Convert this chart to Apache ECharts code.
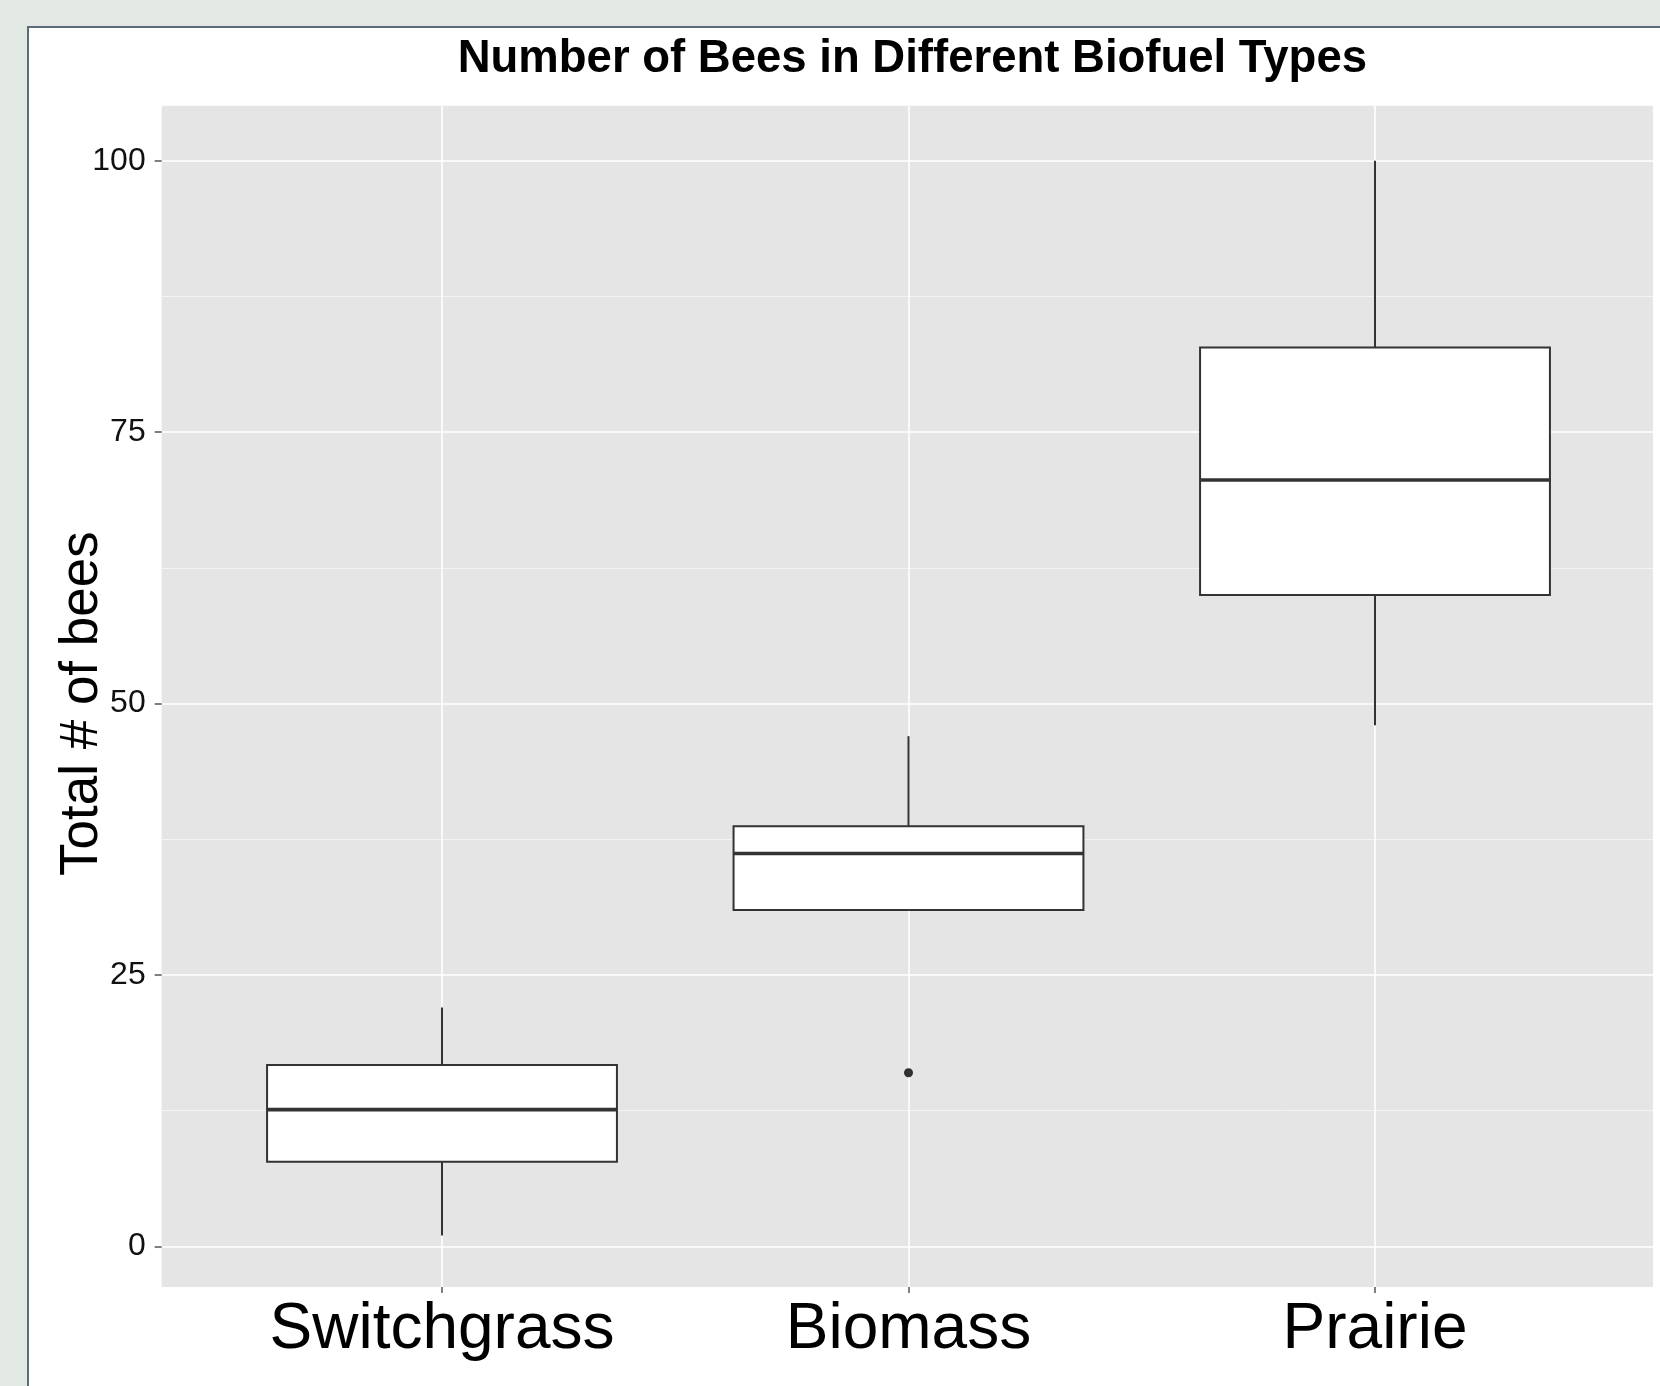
<!DOCTYPE html>
<html>
<head>
<meta charset="utf-8">
<script src="https://cdn.jsdelivr.net/npm/echarts@6/dist/echarts.min.js"></script>
<style>
  html, body { margin: 0; padding: 0; width: 1660px; height: 1386px; overflow: hidden; background: #e2e8e4; }
  #frame {
    position: absolute; left: 27px; top: 26px; width: 1640px; height: 1370px;
    background: #fff; border-left: 2px solid #5d6b78; border-top: 2px solid #5d6b78;
  }
  #chart { position: absolute; left: 0; top: 0; width: 1660px; height: 1386px; }
</style>
</head>
<body>
<div id="frame"></div>
<div id="chart"></div>
<script>
  // 数据
  const categories = ['Switchgrass', 'Biomass', 'Prairie']
  const lowerWhisker = [1, 31, 48]
  const q1 = [7.8, 31, 60]
  const median = [12.6, 36.2, 70.6]
  const q3 = [16.7, 38.7, 82.8]
  const upperWhisker = [22, 47, 100]
  const outliers = [['Biomass', 16]]
  const yTickStep = 25

  const fontFamily = "'Liberation Sans', Arial, sans-serif"
  const panelColor = '#e5e5e5'
  const boxLine = '#333333'

  // 面板位置
  const panel = { left: 161.7, top: 105.7, width: 1491.3, height: 1181.3 }
  const yMinPanel = -3.74
  const yMaxPanel = 105.08
  const pxPerUnit = panel.height / (yMaxPanel - yMinPanel)

  const boxData = categories.map((c, i) => [i, lowerWhisker[i], q1[i], median[i], q3[i], upperWhisker[i]])

  /** 画 ggplot 风格的箱子（没有须线端帽） */
  const renderBox = (params, api) => {
    const idx = api.value(0)
    const pLo = api.coord([idx, api.value(1)])
    const pQ1 = api.coord([idx, api.value(2)])
    const pMed = api.coord([idx, api.value(3)])
    const pQ3 = api.coord([idx, api.value(4)])
    const pHi = api.coord([idx, api.value(5)])
    const w = api.size([1, 0])[0] * 0.75
    const cx = pMed[0]
    const lineStyle = { stroke: boxLine, lineWidth: 2 }
    return {
      type: 'group',
      children: [
        { type: 'line', shape: { x1: cx, y1: pHi[1], x2: cx, y2: pQ3[1] }, style: lineStyle },
        { type: 'line', shape: { x1: cx, y1: pQ1[1], x2: cx, y2: pLo[1] }, style: lineStyle },
        {
          type: 'rect',
          shape: { x: cx - w / 2, y: pQ3[1], width: w, height: pQ1[1] - pQ3[1] },
          style: { fill: '#ffffff', stroke: boxLine, lineWidth: 2 }
        },
        { type: 'line', shape: { x1: cx - w / 2, y1: pMed[1], x2: cx + w / 2, y2: pMed[1] }, style: { stroke: boxLine, lineWidth: 3.6 } }
      ]
    }
  }

  const chart = echarts.init(document.getElementById('chart'), null, { renderer: 'canvas' })
  chart.setOption({
    backgroundColor: 'transparent',
    animation: false,
    title: {
      text: 'Number of Bees in Different Biofuel Types',
      left: panel.left + panel.width / 2,
      textAlign: 'center',
      top: 31,
      textStyle: { fontFamily, fontSize: 45.5, fontWeight: 'bold', color: '#000' }
    },
    grid: [
      // 灰色背景
      { left: panel.left, top: panel.top, width: panel.width, height: panel.height, show: true, backgroundColor: panelColor, borderWidth: 0 },
      // y 轴（0 到 100）
      {
        left: panel.left,
        top: panel.top + (yMaxPanel - 100) * pxPerUnit,
        width: panel.width,
        height: 100 * pxPerUnit
      },
      // 箱线图（类目中心在 442 / 908 / 1375）
      { left: 442, top: panel.top, width: 933, height: panel.height }
    ],
    xAxis: [
      { gridIndex: 0, type: 'value', show: false },
      { gridIndex: 1, type: 'value', show: false },
      {
        gridIndex: 2,
        type: 'category',
        data: categories,
        boundaryGap: false,
        axisLine: { show: false, onZero: false },
        axisTick: { show: true, length: 6, lineStyle: { color: '#555', width: 1.5 } },
        axisLabel: { interval: 0, margin: 11, fontFamily, fontSize: 64, color: '#000' },
        splitLine: { show: true, lineStyle: { color: '#ffffff', width: 1.6 } }
      }
    ],
    yAxis: [
      { gridIndex: 0, type: 'value', show: false },
      {
        gridIndex: 1,
        type: 'value',
        min: 0,
        max: 100,
        interval: yTickStep,
        name: 'Total # of bees',
        nameLocation: 'middle',
        nameRotate: 90,
        nameGap: 53,
        nameMoveOverlap: false,
        nameTextStyle: { fontFamily, fontSize: 53, color: '#000' },
        axisLine: { show: false },
        axisTick: { show: true, length: 7, lineStyle: { color: '#555', width: 1.5 } },
        axisLabel: { margin: 16, fontFamily, fontSize: 32, color: '#111' },
        splitLine: { show: true, lineStyle: { color: '#ffffff', width: 1.6 } },
        minorTick: { show: false, splitNumber: 2 },
        minorSplitLine: { show: true, lineStyle: { color: '#f4f4f4', width: 1 } }
      },
      { gridIndex: 2, type: 'value', min: yMinPanel, max: yMaxPanel, show: false, splitLine: { show: false } }
    ],
    series: [
      {
        type: 'custom',
        xAxisIndex: 2,
        yAxisIndex: 2,
        data: boxData,
        renderItem: renderBox,
        z: 3
      },
      {
        type: 'scatter',
        xAxisIndex: 2,
        yAxisIndex: 2,
        data: outliers,
        symbol: 'circle',
        symbolSize: 9,
        itemStyle: { color: '#000' },
        z: 4
      }
    ]
  })
</script>
</body>
</html>
